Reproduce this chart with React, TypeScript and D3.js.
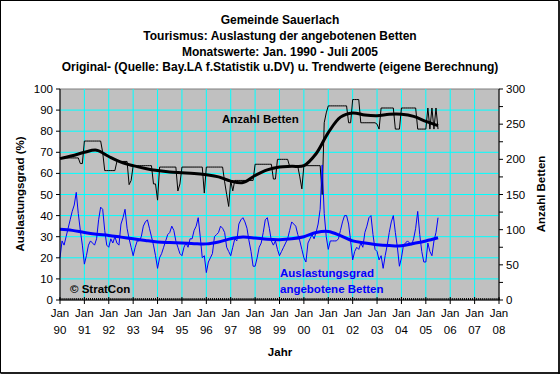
import * as d3 from "d3";

const W = 560;
const H = 374;
const FONT = "Arial, 'Liberation Sans', sans-serif";

const titleLines = [
  "Gemeinde Sauerlach",
  "Tourismus: Auslastung der angebotenen Betten",
  "Monatswerte: Jan. 1990 - Juli 2005",
  "Original- (Quelle: Bay.LA f.Statistik u.DV) u. Trendwerte (eigene Berechnung)",
];

const yearLabels = [
  "90", "91", "92", "93", "94", "95", "96", "97", "98", "99",
  "00", "01", "02", "03", "04", "05", "06", "07", "08",
];
const leftTicks = [0, 10, 20, 30, 40, 50, 60, 70, 80, 90, 100];
const rightTicks = [0, 50, 100, 150, 200, 250, 300];
const rightMinorTicks = [0, 25, 50, 75, 100, 125, 150, 175, 200, 225, 250, 275, 300];

// Auslastungsgrad (%), monthly Jan 1990 - Jul 2005
const utilization = [
  20, 28, 26, 30, 34, 38, 42, 45, 51, 41, 33, 26, // 1990
  17, 21, 26, 28, 27, 26, 29, 38, 44, 43, 33, 26, // 1991
  25, 29, 27, 30, 27, 26, 36, 39, 43, 34, 29, 25, // 1992
  21, 25, 28, 28, 30, 35, 37, 38, 34, 30, 26, 21, // 1993
  15, 20, 22, 25, 28, 31, 32, 35, 33, 28, 25, 22, // 1994
  21, 25, 27, 25, 29, 29, 33, 35, 39, 30, 20, 21, // 1995
  13, 18, 20, 22, 30, 31, 32, 35, 34, 32, 25, 23, // 1996
  21, 25, 29, 28, 36, 38, 39, 37, 34, 28, 23, 16, // 1997
  16, 20, 25, 27, 32, 38, 39, 34, 28, 26, 28, 24, // 1998
  21, 23, 25, 27, 29, 33, 37, 36, 35, 31, 28, 24, // 1999
  20, 18, 27, 29, 31, 29, 32, 36, 43, 64, 41, 30, // 2000
  24, 28, 28, 28, 28, 29, 33, 37, 40, 40, 36, 28, // 2001
  19, 23, 25, 24, 27, 25, 32, 35, 39, 40, 31, 24, // 2002
  23, 19, 21, 15, 21, 26, 32, 37, 40, 32, 25, 16, // 2003
  20, 26, 27, 28, 27, 26, 29, 34, 42, 31, 23, 18, // 2004
  18, 27, 23, 21, 28, 32, 39, // 2005
];

// Anzahl Betten, monthly
const beds = [
  202, 202, 202, 202, 202, 202, 202, 202, 202, 202, 194, 194, // 1990
  226, 226, 226, 226, 226, 226, 226, 226, 226, 210, 184, 184, // 1991
  184, 184, 184, 184, 197, 197, 197, 197, 197, 197, 164, 170, // 1992
  191, 191, 191, 191, 191, 191, 191, 191, 191, 191, 165, 165, // 1993
  142, 189, 189, 189, 189, 189, 189, 189, 189, 189, 155, 165, // 1994
  189, 189, 189, 189, 189, 189, 189, 189, 189, 189, 189, 152, // 1995
  189, 189, 189, 189, 189, 189, 189, 189, 189, 168, 150, 133, // 1996
  170, 155, 170, 170, 170, 170, 170, 170, 170, 170, 170, 170, // 1997
  193, 193, 193, 193, 193, 193, 193, 193, 193, 172, 172, 200, // 1998
  200, 200, 200, 200, 200, 190, 190, 190, 190, 190, 175, 158, // 1999
  191, 191, 191, 191, 191, 191, 191, 191, 191, 150, 252, 266, // 2000
  276, 276, 276, 276, 276, 276, 276, 276, 276, 276, 252, 252, // 2001
  285, 285, 285, 285, 252, 252, 252, 252, 252, 252, 252, 252, // 2002
  250, 243, 273, 273, 273, 273, 273, 273, 273, 243, 243, 243, // 2003
  273, 273, 273, 273, 273, 273, 273, 273, 243, 243, 243, 243, // 2004
  243, 273, 243, 273, 243, 273, 243, // 2005
];

// trend values, every 6 months
const trendMonths = [
  0, 6, 12, 18, 24, 30, 36, 42, 48, 54, 60, 66, 72, 78, 84, 90,
  96, 102, 108, 114, 120, 126, 132, 138, 144, 150, 156, 162, 168, 174, 180, 186,
];
const bedsTrend = [
  201, 205, 210, 213, 204, 196, 191, 187, 184, 182, 181, 180, 178, 175, 169, 167,
  177, 185, 189, 190, 191, 208, 238, 260, 266, 263, 262, 264, 264, 261, 254, 248,
];
const utilTrend = [
  33.5, 33, 32, 31.2, 30.6, 29.8, 29, 28.2, 27.5, 27.2, 27, 26.7, 26.6, 27.5, 29, 29.8,
  29.4, 28.8, 28.6, 29, 30, 32, 32.5, 30.5, 28, 27, 26.2, 25.8, 25.7, 26.8, 28, 29.5,
];

export default function App() {
  const x = d3.scaleLinear().domain([0, 216]).range([60, 499]);
  const yL = d3.scaleLinear().domain([0, 100]).range([300, 89]);
  const yR = d3.scaleLinear().domain([0, 300]).range([300, 89]);

  const [x0, x1] = x.range();
  const [yb, yt] = yL.range();

  const lineL = d3.line<number>().x((_, i) => x(i)).y((d) => yL(d));
  const lineR = d3.line<number>().x((_, i) => x(i)).y((d) => yR(d));
  const trendL = d3
    .line<number>()
    .x((_, i) => x(trendMonths[i]))
    .y((d) => yL(d))
    .curve(d3.curveCatmullRom);
  const trendR = d3
    .line<number>()
    .x((_, i) => x(trendMonths[i]))
    .y((d) => yR(d))
    .curve(d3.curveCatmullRom);

  const months = d3.range(0, 217);

  return (
    <svg
      width={W}
      height={H}
      style={{ position: "absolute", left: 0, top: 0, background: "#fff" }}
      fontFamily={FONT}
    >
      <rect x={0.5} y={0.5} width={W - 1.5} height={H - 1.5} fill="#fff" stroke="#000" strokeWidth={1} />
      <line x1={W - 1} y1={1} x2={W - 1} y2={H} stroke="#000" strokeWidth={1.5} />
      <line x1={1} y1={H - 1} x2={W} y2={H - 1} stroke="#000" strokeWidth={1.5} />

      {titleLines.map((t, i) => (
        <text key={t} x={280} y={20 + i * 15.7} dy="0.35em" textAnchor="middle" fontSize={12} fontWeight="bold">
          {t}
        </text>
      ))}

      {/* plot area */}
      <rect x={x0} y={yt} width={x1 - x0} height={yb - yt} fill="#c0c0c0" stroke="#808080" />

      {/* grid */}
      {leftTicks.slice(1, -1).map((v) => (
        <line key={"h" + v} x1={x0} x2={x1} y1={yL(v)} y2={yL(v)} stroke="#00ffff" />
      ))}
      {yearLabels.slice(1, -1).map((_, i) => (
        <line key={"v" + i} x1={x((i + 1) * 12)} x2={x((i + 1) * 12)} y1={yt} y2={yb} stroke="#00ffff" />
      ))}

      {/* series */}
      <path d={lineR(beds) ?? ""} fill="none" stroke="#000" strokeWidth={1} />
      <path d={lineL(utilization) ?? ""} fill="none" stroke="#0000ff" strokeWidth={1} />
      <path d={trendR(bedsTrend) ?? ""} fill="none" stroke="#000" strokeWidth={3} />
      <path d={trendL(utilTrend) ?? ""} fill="none" stroke="#0000ff" strokeWidth={3} />

      {/* axes */}
      <line x1={x0} x2={x0} y1={yt} y2={yb} stroke="#000" />
      <line x1={x1} x2={x1} y1={yt} y2={yb} stroke="#000" />
      <line x1={x0} x2={x1} y1={yb} y2={yb} stroke="#000" />

      {leftTicks.map((v) => (
        <g key={"l" + v}>
          <line x1={x0 - 4} x2={x0} y1={yL(v)} y2={yL(v)} stroke="#000" />
          <text x={x0 - 7} y={yL(v)} dy="0.35em" textAnchor="end" fontSize={11.5}>
            {v}
          </text>
        </g>
      ))}
      {rightMinorTicks.map((v) => (
        <line key={"rm" + v} x1={x1} x2={x1 + 4} y1={yR(v)} y2={yR(v)} stroke="#000" />
      ))}
      {rightTicks.map((v) => (
        <text key={"r" + v} x={x1 + 7} y={yR(v)} dy="0.35em" fontSize={11.5}>
          {v}
        </text>
      ))}

      {months.map((m) => (
        <line key={"m" + m} x1={x(m)} x2={x(m)} y1={yb - 2} y2={yb} stroke="#000" />
      ))}
      {yearLabels.map((lab, i) => (
        <g key={"x" + lab}>
          <line x1={x(i * 12)} x2={x(i * 12)} y1={yb - 3} y2={yb + 4} stroke="#000" />
          <text x={x(i * 12)} y={313} dy="0.35em" textAnchor="middle" fontSize={11.5}>
            Jan
          </text>
          <text x={x(i * 12)} y={330} dy="0.35em" textAnchor="middle" fontSize={11.5}>
            {lab}
          </text>
        </g>
      ))}

      <text x={280} y={352} dy="0.35em" textAnchor="middle" fontSize={11.5} fontWeight="bold">
        Jahr
      </text>
      <text transform="translate(20,194) rotate(-90)" dy="0.35em" textAnchor="middle" fontSize={11.5} fontWeight="bold">
        Auslastungsgrad (%)
      </text>
      <text transform="translate(541,194) rotate(-90)" dy="0.35em" textAnchor="middle" fontSize={11.5} fontWeight="bold">
        Anzahl Betten
      </text>

      {/* annotations */}
      <text x={222} y={119} dy="0.35em" fontSize={11.5} fontWeight="bold">
        Anzahl Betten
      </text>
      <text x={280} y={273} dy="0.35em" fontSize={11.5} fontWeight="bold" fill="#0000ff">
        Auslastungsgrad
      </text>
      <text x={280} y={289} dy="0.35em" fontSize={11.5} fontWeight="bold" fill="#0000ff">
        angebotene Betten
      </text>
      <text x={70} y={289} dy="0.35em" fontSize={11.5} fontWeight="bold">
        © StratCon
      </text>
    </svg>
  );
}
